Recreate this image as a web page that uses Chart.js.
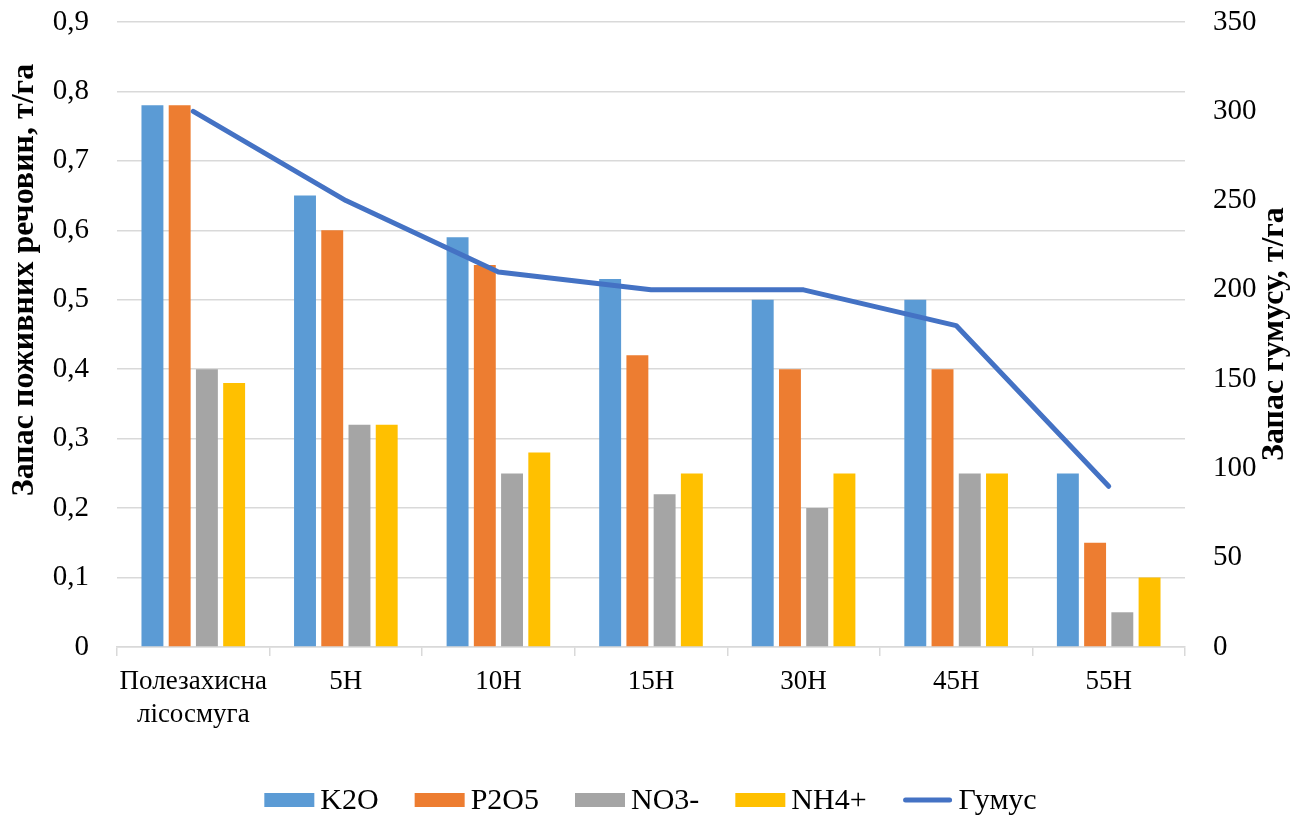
<!DOCTYPE html>
<html>
<head>
<meta charset="utf-8">
<script src="https://cdn.jsdelivr.net/npm/chart.js@4"></script>
<style>
  html, body { margin: 0; padding: 0; background: #fff; }
  #wrap { width: 1301px; height: 820px; }
</style>
</head>
<body>
<div id="wrap"><canvas id="chart" width="1301" height="820"></canvas></div>
<script>
const categories = [['Полезахисна', 'лісосмуга'], '5H', '10H', '15H', '30H', '45H', '55H'];
const k2o  = [0.78, 0.65, 0.59, 0.53, 0.50, 0.50, 0.25];
const p2o5 = [0.78, 0.60, 0.55, 0.42, 0.40, 0.40, 0.15];
const no3  = [0.40, 0.32, 0.25, 0.22, 0.20, 0.25, 0.05];
const nh4  = [0.38, 0.32, 0.28, 0.25, 0.25, 0.25, 0.10];
const humus = [300, 250, 210, 200, 200, 180, 90];
const leftTicks  = ['0', '0,1', '0,2', '0,3', '0,4', '0,5', '0,6', '0,7', '0,8', '0,9'];
const rightTicks = ['0', '50', '100', '150', '200', '250', '300', '350'];

const FONT = '"Liberation Serif", "Times New Roman", serif';
const gridColor = '#d9d9d9';
const lineColor = '#4472C4';

// axis titles drawn by hand so they sit where the original has them
const axisTitles = {
  id: 'axisTitles',
  afterDraw(chart) {
    const ctx = chart.ctx;
    ctx.save();
    ctx.fillStyle = '#000';
    ctx.font = 'bold 32px ' + FONT;
    ctx.textAlign = 'center';
    ctx.textBaseline = 'middle';
    ctx.translate(25, 280);
    ctx.rotate(-Math.PI / 2);
    ctx.fillText('Запас поживних речовин, т/га', 0, 0);
    ctx.restore();

    ctx.save();
    ctx.fillStyle = '#000';
    ctx.font = 'bold 32px ' + FONT;
    ctx.textAlign = 'center';
    ctx.textBaseline = 'middle';
    ctx.translate(1275, 334);
    ctx.rotate(-Math.PI / 2);
    ctx.fillText('Запас гумусу, т/га', 0, 0);
    ctx.restore();
  }
};

// simple bottom legend, built from the datasets
const bottomLegend = {
  id: 'bottomLegend',
  afterDraw(chart) {
    const ctx = chart.ctx;
    const sets = chart.data.datasets;
    const boxW = 50, boxH = 14, gapText = 6, gapItem = 36, cy = 800;
    ctx.save();
    ctx.font = 'normal 30px ' + FONT;
    ctx.textBaseline = 'middle';
    ctx.textAlign = 'left';
    const widths = sets.map(d => boxW + gapText + ctx.measureText(d.label).width);
    const total = widths.reduce((a, b) => a + b, 0) + gapItem * (sets.length - 1);
    let x = (chart.width - total) / 2;
    sets.forEach((d, i) => {
      if (d.type === 'line') {
        ctx.strokeStyle = d.borderColor;
        ctx.lineWidth = 5;
        ctx.lineCap = 'round';
        ctx.beginPath();
        ctx.moveTo(x + 3, cy);
        ctx.lineTo(x + boxW - 3, cy);
        ctx.stroke();
      } else {
        ctx.fillStyle = d.backgroundColor;
        ctx.fillRect(x, cy - boxH / 2, boxW, boxH);
      }
      ctx.fillStyle = '#000';
      ctx.fillText(d.label, x + boxW + gapText, cy + 1);
      x += widths[i] + gapItem;
    });
    ctx.restore();
  }
};

const barStyle = (color) => ({
  backgroundColor: color,
  borderWidth: 0,
  categoryPercentage: 0.714,
  barPercentage: 0.805,
  yAxisID: 'y',
  order: 1
});

new Chart(document.getElementById('chart'), {
  type: 'bar',
  data: {
    labels: categories,
    datasets: [
      { label: 'K2O', data: k2o, ...barStyle('#5B9BD5') },
      { label: 'P2O5', data: p2o5, ...barStyle('#ED7D31') },
      { label: 'NO3-', data: no3, ...barStyle('#A5A5A5') },
      { label: 'NH4+', data: nh4, ...barStyle('#FFC000') },
      {
        type: 'line', label: 'Гумус', data: humus, yAxisID: 'y1',
        borderColor: lineColor, backgroundColor: lineColor, borderWidth: 5,
        pointRadius: 0, borderCapStyle: 'round', borderJoinStyle: 'round',
        tension: 0, order: 0
      }
    ]
  },
  options: {
    responsive: false,
    animation: false,
    layout: { padding: { top: 0, left: 0, right: 0, bottom: 46 } },
    plugins: {
      tooltip: { enabled: false },
      legend: { display: false }
    },
    scales: {
      x: {
        afterFit: s => { s.height = 127; },
        offset: true,
        border: { display: true, color: gridColor, width: 1.5 },
        grid: { offset: true, drawOnChartArea: false, drawTicks: true, tickLength: 9, color: gridColor, lineWidth: 1.5 },
        ticks: { color: '#000', font: { family: FONT, size: 27 }, padding: 10, maxRotation: 0 }
      },
      y: {
        position: 'left',
        min: 0, max: 0.9,
        afterFit: s => { s.width = 117; s.paddingTop = 22; s.paddingBottom = 18; },
        border: { display: false },
        grid: { color: gridColor, lineWidth: 1.5, drawTicks: false },
        ticks: {
          stepSize: 0.1, padding: 28, color: '#000',
          font: { family: FONT, size: 29 },
          callback: (v, i) => leftTicks[i]
        }
      },
      y1: {
        position: 'right',
        min: 0, max: 350,
        afterFit: s => { s.width = 116; s.paddingTop = 22; s.paddingBottom = 18; },
        border: { display: false },
        grid: { drawOnChartArea: false, drawTicks: false },
        ticks: {
          stepSize: 50, padding: 28, color: '#000',
          font: { family: FONT, size: 29 },
          callback: (v, i) => rightTicks[i]
        }
      }
    }
  },
  plugins: [axisTitles, bottomLegend]
});
</script>
</body>
</html>
